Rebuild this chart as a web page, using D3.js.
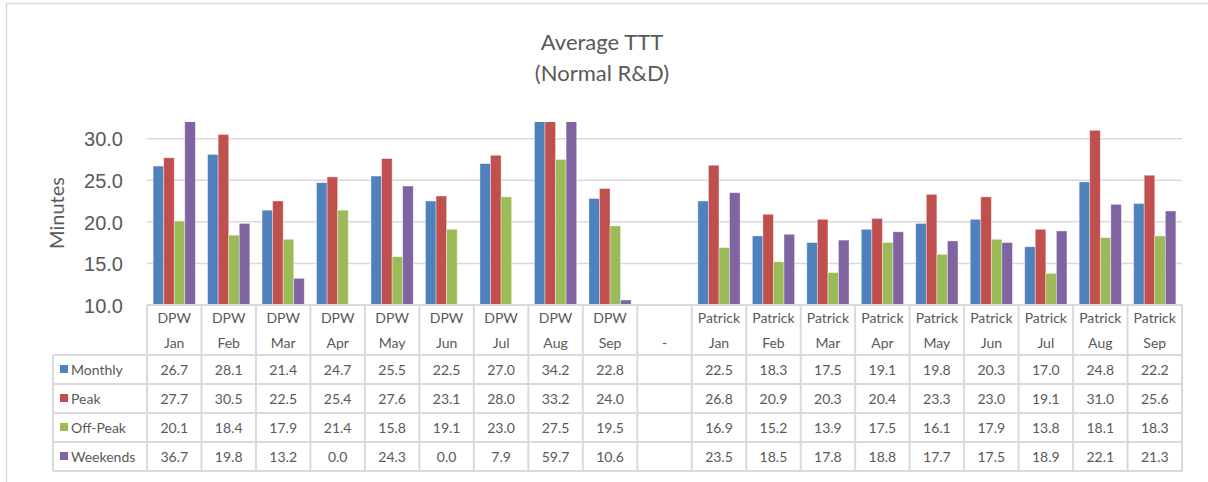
<!DOCTYPE html>
<html>
<head>
<meta charset="utf-8">
<title>Average TTT (Normal R&amp;D)</title>
<script src="https://cdn.jsdelivr.net/npm/d3@7"></script>
<style>
  html, body { margin: 0; padding: 0; background: #fff; }
  svg { display: block; font-family: Lato, "Liberation Sans", sans-serif; }
  .tick-label { fill: #595959; font-size: 20px; }
  .cell { fill: #595959; font-size: 14px; }
</style>
</head>
<body>
<svg id="chart" width="1208" height="482"></svg>
<script>
(function () {
  'use strict';

  /* ------------------------------------------------------------
   * DATA
   * ------------------------------------------------------------ */
  var groups   = ['DPW', 'DPW', 'DPW', 'DPW', 'DPW', 'DPW', 'DPW', 'DPW', 'DPW', '',
                  'Patrick', 'Patrick', 'Patrick', 'Patrick', 'Patrick', 'Patrick', 'Patrick', 'Patrick', 'Patrick'];
  var months   = ['Jan', 'Feb', 'Mar', 'Apr', 'May', 'Jun', 'Jul', 'Aug', 'Sep', '-',
                  'Jan', 'Feb', 'Mar', 'Apr', 'May', 'Jun', 'Jul', 'Aug', 'Sep'];

  var monthly  = [26.7, 28.1, 21.4, 24.7, 25.5, 22.5, 27.0, 34.2, 22.8, null,
                  22.5, 18.3, 17.5, 19.1, 19.8, 20.3, 17.0, 24.8, 22.2];
  var peak     = [27.7, 30.5, 22.5, 25.4, 27.6, 23.1, 28.0, 33.2, 24.0, null,
                  26.8, 20.9, 20.3, 20.4, 23.3, 23.0, 19.1, 31.0, 25.6];
  var offPeak  = [20.1, 18.4, 17.9, 21.4, 15.8, 19.1, 23.0, 27.5, 19.5, null,
                  16.9, 15.2, 13.9, 17.5, 16.1, 17.9, 13.8, 18.1, 18.3];
  var weekends = [36.7, 19.8, 13.2, 0.0, 24.3, 0.0, 7.9, 59.7, 10.6, null,
                  23.5, 18.5, 17.8, 18.8, 17.7, 17.5, 18.9, 22.1, 21.3];

  var seriesNames = ['Monthly', 'Peak', 'Off-Peak', 'Weekends'];
  var yTicks      = [10, 15, 20, 25, 30];

  var series = [monthly, peak, offPeak, weekends].map(function (vals, i) {
    return { name: seriesNames[i], values: vals };
  });
  var colors = ['#4F81BD', '#C0504D', '#9BBB59', '#8064A2'];

  /* ------------------------------------------------------------
   * LAYOUT
   * ------------------------------------------------------------ */
  var plot  = { left: 147, right: 1182, top: 122, bottom: 305 };
  var table = { legendLeft: 53, headerBottom: 355, rowH: 29 };
  var grid  = '#d9d9d9';

  var svg = d3.select('#chart');

  /* outer chart border */
  svg.append('rect')
    .attr('x', 6.5).attr('y', 3.5)
    .attr('width', 1220).attr('height', 500)
    .attr('fill', 'none').attr('stroke', grid).attr('stroke-width', 1.5);

  /* title */
  svg.append('text')
    .attr('x', 602).attr('y', 50)
    .attr('text-anchor', 'middle')
    .attr('fill', '#595959').style('font-size', '22px')
    .text('Average TTT');
  svg.append('text')
    .attr('x', 602).attr('y', 81)
    .attr('text-anchor', 'middle')
    .attr('fill', '#595959').style('font-size', '22px')
    .text('(Normal R&D)');

  /* scales */
  var idx = d3.range(months.length);
  var x = d3.scaleBand().domain(idx).range([plot.left, plot.right]).paddingInner(0).paddingOuter(0);
  var xSub = d3.scaleBand().domain(d3.range(series.length))
    .range([0, x.bandwidth()]).paddingOuter(0.58).paddingInner(0);
  var y = d3.scaleLinear().domain([10, 32]).range([plot.bottom, plot.top]);

  /* gridlines */
  svg.append('g').selectAll('line')
    .data(yTicks.slice(1))
    .enter().append('line')
    .attr('x1', plot.left).attr('x2', plot.right)
    .attr('y1', function (d) { return y(d); })
    .attr('y2', function (d) { return y(d); })
    .attr('stroke', grid).attr('stroke-width', 1.5);

  /* y axis labels */
  var yAxis = d3.axisLeft(y).tickValues(yTicks).tickFormat(d3.format('.1f')).tickSize(0).tickPadding(24);
  var yG = svg.append('g').attr('transform', 'translate(' + plot.left + ',0)').call(yAxis);
  yG.select('.domain').remove();
  yG.selectAll('text').attr('class', 'tick-label').attr('fill', null).attr('dy', '0.36em');

  svg.append('text')
    .attr('transform', 'translate(64,213) rotate(-90)')
    .attr('text-anchor', 'middle')
    .attr('fill', '#595959').style('font-size', '20px')
    .text('Minutes');

  /* bars (clipped to the plot area) */
  svg.append('clipPath').attr('id', 'plot-clip')
    .append('rect')
    .attr('x', plot.left).attr('y', plot.top)
    .attr('width', plot.right - plot.left).attr('height', plot.bottom - plot.top);

  var barsG = svg.append('g').attr('clip-path', 'url(#plot-clip)');
  series.forEach(function (s, si) {
    barsG.append('g').selectAll('rect')
      .data(s.values.map(function (v, i) { return { i: i, v: v }; })
        .filter(function (d) { return d.v !== null && d.v > 10; }))
      .enter().append('rect')
      .attr('x', function (d) { return x(d.i) + xSub(si); })
      .attr('width', xSub.bandwidth())
      .attr('y', function (d) { return y(Math.min(d.v, 32.5)); })
      .attr('height', function (d) { return plot.bottom - y(Math.min(d.v, 32.5)); })
      .attr('fill', colors[si])
      .attr('stroke', 'rgba(255,255,255,0.45)')
      .attr('stroke-width', 0.8);
  });

  /* ------------------------------------------------------------
   * DATA TABLE
   * ------------------------------------------------------------ */
  var tG = svg.append('g');
  var tableBottom = table.headerBottom + table.rowH * series.length;

  /* horizontal lines */
  tG.append('line')
    .attr('x1', plot.left).attr('x2', plot.right)
    .attr('y1', plot.bottom).attr('y2', plot.bottom)
    .attr('stroke', grid).attr('stroke-width', 2);
  d3.range(series.length + 1).forEach(function (r) {
    var yy = table.headerBottom + r * table.rowH;
    tG.append('line')
      .attr('x1', table.legendLeft).attr('x2', plot.right)
      .attr('y1', yy).attr('y2', yy)
      .attr('stroke', grid).attr('stroke-width', 2);
  });

  /* vertical lines */
  idx.concat([months.length]).forEach(function (i) {
    var xx = i < months.length ? x(i) : plot.right;
    tG.append('line')
      .attr('x1', xx).attr('x2', xx)
      .attr('y1', plot.bottom).attr('y2', tableBottom)
      .attr('stroke', grid).attr('stroke-width', 2);
  });
  tG.append('line')
    .attr('x1', table.legendLeft).attr('x2', table.legendLeft)
    .attr('y1', table.headerBottom).attr('y2', tableBottom)
    .attr('stroke', grid).attr('stroke-width', 2);

  /* category labels (two lines) */
  var cx = function (i) { return x(i) + x.bandwidth() / 2; };
  tG.append('g').selectAll('text')
    .data(idx).enter().append('text')
    .attr('class', 'cell').attr('text-anchor', 'middle')
    .attr('x', cx).attr('y', 323)
    .text(function (i) { return groups[i]; });
  tG.append('g').selectAll('text')
    .data(idx).enter().append('text')
    .attr('class', 'cell').attr('text-anchor', 'middle')
    .attr('x', cx).attr('y', 348)
    .text(function (i) { return months[i]; });

  /* rows: legend key + values */
  series.forEach(function (s, si) {
    var base = table.headerBottom + si * table.rowH + 20;
    tG.append('rect')
      .attr('x', 60).attr('y', base - 10)
      .attr('width', 8).attr('height', 8)
      .attr('fill', colors[si]);
    tG.append('text')
      .attr('class', 'cell')
      .attr('x', 71).attr('y', base)
      .text(s.name);
    tG.append('g').selectAll('text')
      .data(idx.filter(function (i) { return s.values[i] !== null; }))
      .enter().append('text')
      .attr('class', 'cell').attr('text-anchor', 'middle')
      .attr('x', cx).attr('y', base)
      .text(function (i) { return d3.format('.1f')(s.values[i]); });
  });
})();
</script>
</body>
</html>
